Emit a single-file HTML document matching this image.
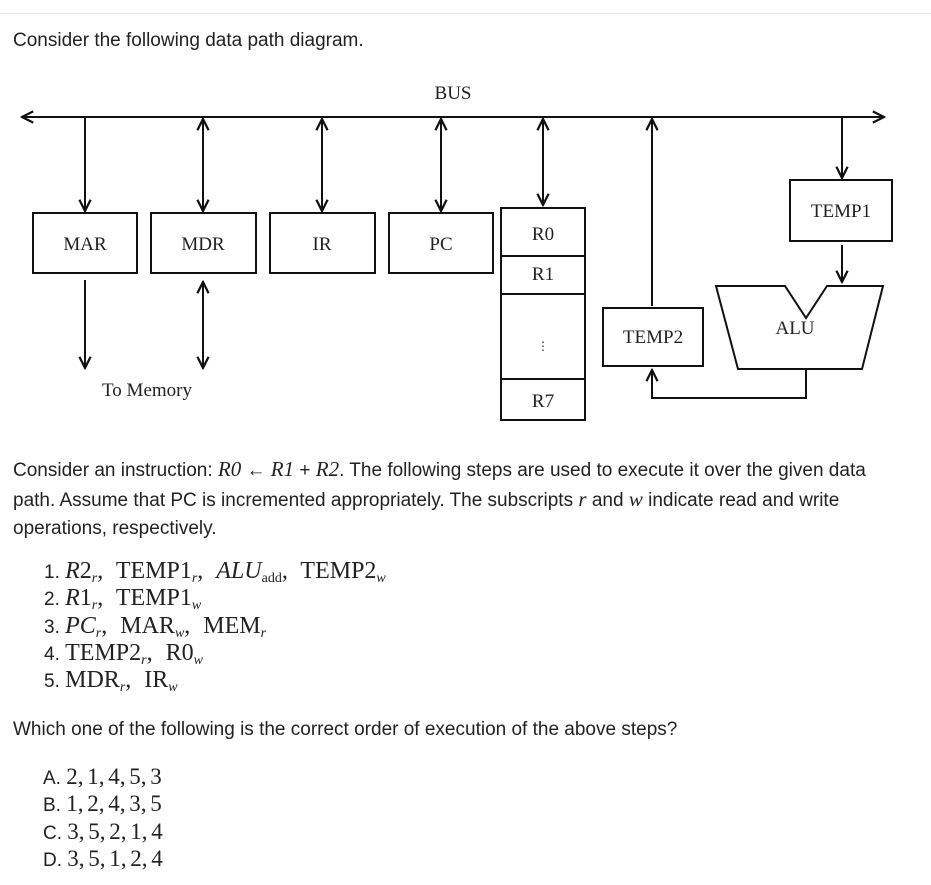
<!DOCTYPE html>
<html><head><style>
body{margin:0;width:931px;height:885px;background:#fff;position:relative;overflow:hidden;font-family:"Liberation Sans",sans-serif;color:#222;}
.t{position:absolute;font-size:19px;white-space:nowrap;}
.m{font-family:"Liberation Serif",serif;font-size:24px;word-spacing:7px;}
.o{font-family:"Liberation Serif",serif;font-size:23px;word-spacing:-2px;}
sub{font-size:14px;font-style:italic;vertical-align:-4px;line-height:0;}
i{font-family:"Liberation Serif",serif;}
.r{height:27.3px;line-height:27px;}
</style></head><body>
<div style="position:absolute;left:0;top:13px;width:931px;height:1px;background:#e6e6e6"></div>
<div class="t" style="left:13px;top:30px">Consider the following data path diagram.</div>
<svg style="position:absolute;left:0;top:0" width="931" height="440" font-family="Liberation Serif, serif" font-size="19" fill="none" stroke="#111" stroke-width="2">
<defs><marker id="a" viewBox="0 0 10 10" refX="9" refY="5" markerWidth="7" markerHeight="7" orient="auto-start-reverse"><path d="M1,1 L9,5 L1,9" fill="none" stroke="#111" stroke-width="1.6"/></marker></defs>
<line x1="22" y1="117" x2="884" y2="117" marker-start="url(#a)" marker-end="url(#a)"/>
<line x1="85" y1="117" x2="85" y2="211" marker-end="url(#a)"/>
<line x1="203" y1="119" x2="203" y2="211" marker-start="url(#a)" marker-end="url(#a)"/>
<line x1="322" y1="119" x2="322" y2="211" marker-start="url(#a)" marker-end="url(#a)"/>
<line x1="441" y1="119" x2="441" y2="211" marker-start="url(#a)" marker-end="url(#a)"/>
<line x1="543" y1="119" x2="543" y2="205" marker-start="url(#a)" marker-end="url(#a)"/>
<line x1="652" y1="306" x2="652" y2="119" marker-end="url(#a)"/>
<line x1="842" y1="117" x2="842" y2="178" marker-end="url(#a)"/>
<line x1="842" y1="245" x2="842" y2="282" marker-end="url(#a)"/>
<line x1="85" y1="280" x2="85" y2="368" marker-end="url(#a)"/>
<line x1="203" y1="282" x2="203" y2="368" marker-start="url(#a)" marker-end="url(#a)"/>
<rect x="33" y="213" width="104" height="60"/><rect x="151" y="213" width="105" height="60"/>
<rect x="270" y="213" width="105" height="60"/><rect x="389" y="213" width="104" height="60"/>
<rect x="501" y="208" width="84" height="212"/>
<line x1="501" y1="256" x2="585" y2="256"/><line x1="501" y1="294" x2="585" y2="294"/><line x1="501" y1="379" x2="585" y2="379"/>
<rect x="790" y="180" width="102" height="61"/>
<rect x="603" y="308" width="100" height="58"/>
<path d="M716,286 L785,286 L806,318 L827,286 L883,286 L862,369 L738,369 Z"/>
<path d="M806,369 L806,398 L652,398 L652,370" marker-end="url(#a)"/>
<g fill="#222" stroke="none" text-anchor="middle">
<text x="453" y="99">BUS</text>
<text x="85" y="250">MAR</text><text x="203" y="250">MDR</text><text x="322" y="250">IR</text><text x="441" y="250">PC</text>
<text x="543" y="240">R0</text><text x="543" y="280">R1</text><text x="543" y="350" font-size="12">⋮</text><text x="543" y="407">R7</text>
<text x="841" y="217">TEMP1</text><text x="653" y="343">TEMP2</text><text x="795" y="334">ALU</text>
<text x="147" y="396">To Memory</text>
</g></svg>
<div class="t" style="left:13px;top:455px;line-height:28px;">Consider an instruction: <i style="font-size:21px">R0</i> ← <i style="font-size:21px">R1</i> + <i style="font-size:21px">R2</i>. The following steps are used to execute it over the given data<br>path. Assume that PC is incremented appropriately. The subscripts <i style="font-size:21px">r</i> and <i style="font-size:21px">w</i> indicate read and write<br>operations, respectively.</div>
<div class="t" style="left:44px;top:558px">
<div class="r">1. <span class="m"><i>R</i>2<sub>r</sub>, TEMP1<sub>r</sub>, <i>ALU</i><sub style="font-style:normal">add</sub>, TEMP2<sub>w</sub></span></div>
<div class="r">2. <span class="m"><i>R</i>1<sub>r</sub>, TEMP1<sub>w</sub></span></div>
<div class="r">3. <span class="m"><i>PC</i><sub>r</sub>, MAR<sub>w</sub>, MEM<sub>r</sub></span></div>
<div class="r">4. <span class="m">TEMP2<sub>r</sub>, R0<sub>w</sub></span></div>
<div class="r">5. <span class="m">MDR<sub>r</sub>, IR<sub>w</sub></span></div>
</div>
<div class="t" style="left:13px;top:719px">Which one of the following is the correct order of execution of the above steps?</div>
<div class="t" style="left:43px;top:763px">
<div class="r">A. <span class="o">2, 1, 4, 5, 3</span></div>
<div class="r">B. <span class="o">1, 2, 4, 3, 5</span></div>
<div class="r">C. <span class="o">3, 5, 2, 1, 4</span></div>
<div class="r">D. <span class="o">3, 5, 1, 2, 4</span></div>
</div>
</body></html>
